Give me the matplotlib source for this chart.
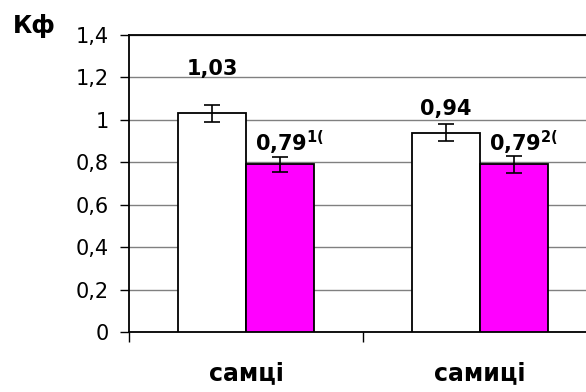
import matplotlib
matplotlib.use('Agg')
import matplotlib.pyplot as plt
import numpy as np

# group names and values
groups = ['самці', 'самиці']
control = [1.03, 0.94]
treated = [0.79, 0.79]
control_err = [0.04, 0.038]
treated_err = [0.036, 0.04]
treated_marks = ['1(', '2(']
yticks = [0, 0.2, 0.4, 0.6, 0.8, 1.0, 1.2, 1.4]

plt.rcParams['font.family'] = ['DejaVu Sans']
plt.rcParams['mathtext.fontset'] = 'custom'
plt.rcParams['mathtext.rm'] = 'DejaVu Sans:bold'
plt.rcParams['mathtext.it'] = 'DejaVu Sans:bold'
plt.rcParams['mathtext.bf'] = 'DejaVu Sans:bold'

fig = plt.figure(figsize=(5.86, 3.92), dpi=100)
ax = fig.add_axes([0.22, 0.153, 0.799, 0.758])

x = np.arange(len(groups))
w = 0.29
ax.bar(x - w / 2, control, w, color='white', edgecolor='black', linewidth=1.3, zorder=3)
ax.bar(x + w / 2, treated, w, color='#FF00FF', edgecolor='black', linewidth=1.3, zorder=3)
ax.errorbar(x - w / 2, control, yerr=control_err, fmt='none', ecolor='black',
            elinewidth=1.2, capsize=6, capthick=1.2, zorder=4)
ax.errorbar(x + w / 2, treated, yerr=treated_err, fmt='none', ecolor='black',
            elinewidth=1.2, capsize=6, capthick=1.2, zorder=4)

# value labels
fmt = lambda v: ('%.2f' % v).replace('.', ',')
label_y = [1.212, 1.024]
for i in range(len(groups)):
    ax.text(x[i] - w / 2, label_y[i], fmt(control[i]), ha='center', va='baseline',
            fontsize=15, fontweight='bold', zorder=5)
    ax.text(x[i] + 0.038, 0.852, fmt(treated[i]) + '$^{' + treated_marks[i] + '}$',
            ha='left', va='baseline', fontsize=15, fontweight='bold', zorder=5)

ax.set_xlim(-0.5, 1.5)
ax.set_ylim(0, 1.4)
ax.set_yticks(yticks)
ax.set_yticklabels([('%g' % t).replace('.', ',') for t in yticks], fontsize=15)
ax.yaxis.grid(True, color='#808080', linewidth=1.0, zorder=0)
ax.tick_params(axis='y', length=6.5, width=1.0, pad=8)

ax.set_xticks(x)
ax.set_xticklabels(groups, fontsize=17, fontweight='bold')
ax.set_xticks([-0.5, 0.5, 1.5], minor=True)
ax.tick_params(axis='x', which='major', length=0, pad=21)
ax.tick_params(axis='x', which='minor', length=7, width=1.0)

for s in ['left', 'bottom', 'top']:
    ax.spines[s].set_linewidth(1.3)
ax.spines['right'].set_visible(False)

fig.text(13 / 586, 1 - 33 / 392, 'Кф', fontsize=17, fontweight='bold', ha='left', va='baseline')

fig.savefig('out.png', dpi=100)
